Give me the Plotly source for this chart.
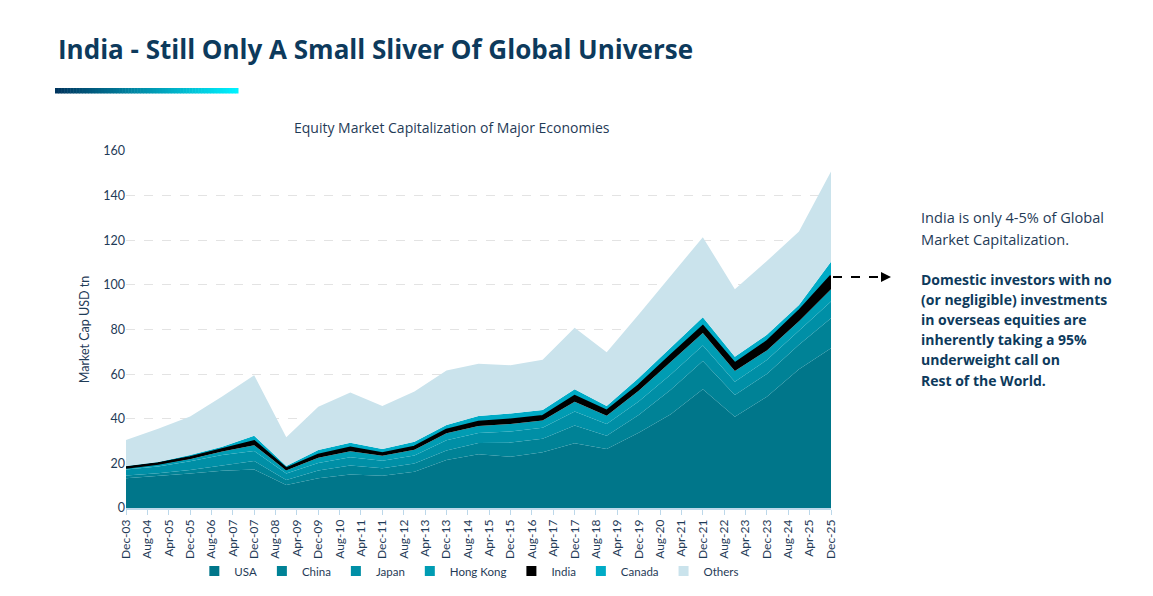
import plotly.graph_objects as go

years = list(range(2003, 2026))
dates = [f"{y}-12-01" for y in years]

usa = [13.3, 14.3, 15.5, 16.7, 17.3, 10.3, 13.3, 15.0, 14.5, 16.3, 21.5, 24.1, 23.0, 25.0, 29.0, 26.4, 33.7, 42.0, 53.2, 40.9, 49.9, 62.2, 71.6]
china = [1.3, 1.3, 1.5, 2.5, 3.8, 2.2, 3.5, 4.0, 3.3, 3.6, 4.3, 5.0, 6.3, 6.0, 8.0, 6.0, 8.0, 11.0, 12.7, 9.8, 10.2, 11.0, 13.4]
japan = [2.6, 3.0, 4.0, 4.6, 4.4, 3.0, 3.4, 3.8, 3.4, 3.6, 4.6, 4.5, 5.0, 5.0, 6.2, 5.2, 6.0, 6.8, 6.9, 5.9, 6.2, 6.2, 7.5]
hong_kong = [0.7, 0.9, 1.0, 1.5, 2.6, 1.4, 2.3, 2.6, 2.2, 2.6, 3.1, 3.1, 3.4, 3.2, 4.4, 3.8, 4.8, 5.8, 5.6, 4.8, 4.3, 4.3, 5.5]
india = [0.3, 0.4, 0.6, 0.8, 1.8, 0.7, 1.3, 1.6, 1.0, 1.3, 1.5, 1.9, 1.9, 1.9, 2.5, 2.1, 2.4, 2.8, 3.0, 3.3, 4.0, 4.6, 6.0]
canada = [0.6, 0.7, 1.2, 1.4, 2.5, 1.2, 2.2, 2.2, 2.0, 2.3, 2.2, 2.6, 2.8, 2.8, 3.1, 2.2, 3.4, 3.6, 4.1, 3.1, 3.0, 2.7, 6.4]
others = [11.7, 14.9, 17.2, 22.5, 27.1, 12.9, 19.4, 22.6, 19.3, 22.5, 24.4, 23.4, 21.6, 22.5, 27.6, 24.1, 28.4, 32.0, 35.9, 30.2, 33.1, 32.9, 40.4]

series = [
    ("USA", usa, "#00768A"),
    ("China", china, "#008296"),
    ("Japan", japan, "#008FA6"),
    ("Hong Kong", hong_kong, "#009CB3"),
    ("India", india, "#000000"),
    ("Canada", canada, "#00ABC6"),
    ("Others", others, "#CAE3EC"),
]

NAVY = "#0D3A5C"
TXT = "#1F3B57"
FONT = "Lato"
FONT2 = "Open Sans"

fig = go.Figure()
for name, vals, col in series:
    lw = 2.5 if name == "India" else 0
    fig.add_trace(go.Scatter(
        x=dates, y=vals, name=name, mode="lines", stackgroup="one",
        line=dict(width=lw, color=col), fillcolor=col,
        hoverinfo="x+y+name", showlegend=False, legendgroup=name,
    ))
# square legend swatches
for name, vals, col in series:
    fig.add_trace(go.Scatter(
        x=[None], y=[None], name=name, mode="markers", legendgroup=name,
        marker=dict(symbol="square", size=10, color=col), showlegend=True,
    ))

L, R, T, B = 126, 322, 151, 88
W, H = 1153, 596
pw, ph = W - L - R, H - T - B

def px(x):
    return (x - L) / pw

def py(y):
    return (H - B - y) / ph

shapes = []
# gradient bar under title
n = 60
x0, x1 = 55, 238
c0 = (0x00, 0x35, 0x5E)
c1 = (0x00, 0xF2, 0xFF)
for i in range(n):
    t = i / (n - 1)
    c = tuple(int(round(c0[k] + (c1[k] - c0[k]) * t)) for k in range(3))
    xa = x0 + (x1 - x0) * i / n
    xb = x0 + (x1 - x0) * (i + 1) / n + 0.5
    shapes.append(dict(type="rect", xref="paper", yref="paper",
                       x0=px(xa), x1=px(xb), y0=py(93.5), y1=py(88),
                       line=dict(width=0), fillcolor="rgb(%d,%d,%d)" % c, layer="above"))

arrow_y = 103.5
shapes.append(dict(type="line", xref="paper", yref="y", x0=px(833), x1=px(884),
                   y0=arrow_y, y1=arrow_y, line=dict(color="black", width=2, dash="dash")))

annotations = [
    dict(text="<b>India - Still Only A Small Sliver Of Global Universe</b>", xref="paper", yref="paper",
         x=px(56), y=py(49), xanchor="left", yanchor="middle", showarrow=False,
         font=dict(family=FONT2, size=26, color=NAVY)),
    dict(text="Equity Market Capitalization of Major Economies", xref="paper", yref="paper",
         x=px(452), y=py(127), xanchor="center", yanchor="middle", showarrow=False,
         font=dict(family=FONT2, size=14, color=TXT)),
    dict(text="", xref="paper", yref="y", x=px(891), y=arrow_y, ax=-9, ay=0,
         showarrow=True, arrowhead=2, arrowsize=1, arrowwidth=2, arrowcolor="black"),
]

normal_lines = [("India is only 4-5% of Global", 217), ("Market Capitalization.", 239)]
bold_lines = [("Domestic investors with no", 279), ("(or negligible) investments", 299),
              ("in overseas equities are", 319), ("inherently taking a 95%", 339),
              ("underweight call on", 359), ("Rest of the World.", 380)]
for txt, yy in normal_lines:
    annotations.append(dict(text=txt, xref="paper", yref="paper", x=px(919), y=py(yy),
                            xanchor="left", yanchor="middle", showarrow=False,
                            font=dict(family=FONT2, size=14.6, color=TXT)))
for txt, yy in bold_lines:
    annotations.append(dict(text="<b>" + txt + "</b>", xref="paper", yref="paper", x=px(919), y=py(yy),
                            xanchor="left", yanchor="middle", showarrow=False,
                            font=dict(family=FONT2, size=14, color=NAVY)))

fig.update_layout(
    width=W, height=H,
    margin=dict(l=L, r=R, t=T, b=B, autoexpand=False),
    paper_bgcolor="white", plot_bgcolor="white",
    font=dict(family=FONT, color=TXT, size=12),
    showlegend=True,
    legend=dict(orientation="h", x=0.487, xanchor="center", y=py(571), yanchor="middle",
                font=dict(family=FONT, size=11.5, color=TXT), traceorder="normal",
                itemwidth=30, bgcolor="rgba(0,0,0,0)"),
    xaxis=dict(type="date", range=["2003-12-01", "2025-12-01"], tickmode="linear",
               tick0="2003-12-01", dtick="M8", tickformat="%b-%y", tickangle=-90,
               showgrid=False, showline=True, linecolor="#BCD8EA", linewidth=1.5,
               ticks="outside", tickcolor="#BCD8EA", ticklen=5,
               tickfont=dict(family=FONT, size=12, color=TXT), zeroline=False),
    yaxis=dict(range=[0, 160], dtick=20, showgrid=True, gridcolor="#E3E3E3", griddash="dash",
               gridwidth=1, zeroline=False, showline=False,
               tickfont=dict(family=FONT, size=12.5, color=TXT),
               title=dict(text="Market Cap USD tn", standoff=10,
                          font=dict(family=FONT, size=12.5, color=TXT))),
    shapes=shapes,
    annotations=annotations,
    hovermode="x unified",
)

fig.write_html("out.html")
